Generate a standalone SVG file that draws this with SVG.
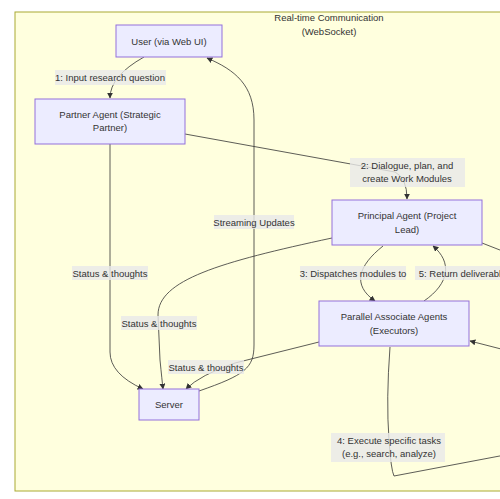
<svg xmlns="http://www.w3.org/2000/svg" width="500" height="499" viewBox="0 0 500 499">
<style>
.node rect{fill:#ECECFF;stroke:#9370DB;stroke-width:1}
text{font-family:"Liberation Sans",Arial,sans-serif;font-size:9.5px;fill:#333;text-anchor:middle}
.edge{fill:none;stroke:#333;stroke-width:0.8}
.lbl{fill:#e8e8e8;opacity:0.8}
</style>
<defs>
<marker id="arr" viewBox="0 0 10 10" refX="9" refY="5" markerWidth="6" markerHeight="6" markerUnits="userSpaceOnUse" orient="auto">
<path d="M0,0 L10,5 L0,10 z" fill="#333"/>
</marker>
</defs>
<rect x="0" y="0" width="500" height="499" fill="#fff"/>
<g id="cluster">
<rect x="15" y="12" width="500" height="479" fill="#ffffde" stroke="#aaaa33" stroke-width="1"/>
<text x="329" y="21">Real-time Communication</text>
<text x="329" y="35">(WebSocket)</text>
</g>
<g id="connectors">
<path class="edge" d="M144,57 Q110,76 110,98" marker-end="url(#arr)"/>
<path class="edge" d="M185,134 L395,172 Q407,178 407,199" marker-end="url(#arr)"/>
<path class="edge" d="M383,246 C358,266 352,285 375,301" marker-end="url(#arr)"/>
<path class="edge" d="M424,301 C450,283 452,262 433,246" marker-end="url(#arr)"/>
<path class="edge" d="M390,347 Q386,400 389,440 Q391,470 394,476 L505,455"/>
<path class="edge" d="M505,350 L470,341" marker-end="url(#arr)"/>
<path class="edge" d="M482,243 L505,252"/>
<path class="edge" d="M110,144 L110,352 Q110,374 143,389" marker-end="url(#arr)"/>
<path class="edge" d="M332,238 C220,262 158,280 158,315 L160,360 Q162,380 163,389" marker-end="url(#arr)"/>
<path class="edge" d="M319,342 L235,363 Q200,375 186,389" marker-end="url(#arr)"/>
<path class="edge" d="M199,391 C245,375 254,368 254,345 L254,120 C254,85 235,70 207,58" marker-end="url(#arr)"/>
</g>
<g id="labels">
<rect class="lbl" x="55" y="70" width="111" height="15"/>
<text x="110" y="81">1: Input research question</text>
<rect class="lbl" x="350" y="158" width="115" height="29"/>
<text x="407" y="169">2: Dialogue, plan, and</text>
<text x="407" y="182">create Work Modules</text>
<rect class="lbl" x="214" y="215" width="80" height="14"/>
<text x="254" y="225.5">Streaming Updates</text>
<rect class="lbl" x="72" y="266" width="76" height="14"/>
<text x="110" y="276.5">Status &amp; thoughts</text>
<rect class="lbl" x="121" y="316" width="76" height="14"/>
<text x="159" y="326.5">Status &amp; thoughts</text>
<rect class="lbl" x="168" y="360" width="76" height="14"/>
<text x="206" y="370.5">Status &amp; thoughts</text>
<rect class="lbl" x="300" y="266" width="106" height="14"/>
<text x="353" y="276.5">3: Dispatches modules to</text>
<rect class="lbl" x="415" y="266" width="100" height="14"/>
<text x="465" y="276.5">5: Return deliverables</text>
<rect class="lbl" x="331" y="433" width="114" height="29"/>
<text x="389" y="444">4: Execute specific tasks</text>
<text x="389" y="457">(e.g., search, analyze)</text>
</g>
<g id="user" class="node">
<rect x="116" y="25" width="106" height="32"/>
<text x="169" y="44.5">User (via Web UI)</text>
</g>
<g id="partner" class="node">
<rect x="35" y="99" width="150" height="45"/>
<text x="110" y="118">Partner Agent (Strategic</text>
<text x="110" y="131">Partner)</text>
</g>
<g id="principal" class="node">
<rect x="332" y="200" width="150" height="45"/>
<text x="407" y="219">Principal Agent (Project</text>
<text x="407" y="233">Lead)</text>
</g>
<g id="associates" class="node">
<rect x="319" y="301" width="150" height="45"/>
<text x="394" y="320">Parallel Associate Agents</text>
<text x="394" y="334">(Executors)</text>
</g>
<g id="server" class="node">
<rect x="139" y="389" width="60" height="31"/>
<text x="169" y="408">Server</text>
</g>
</svg>
